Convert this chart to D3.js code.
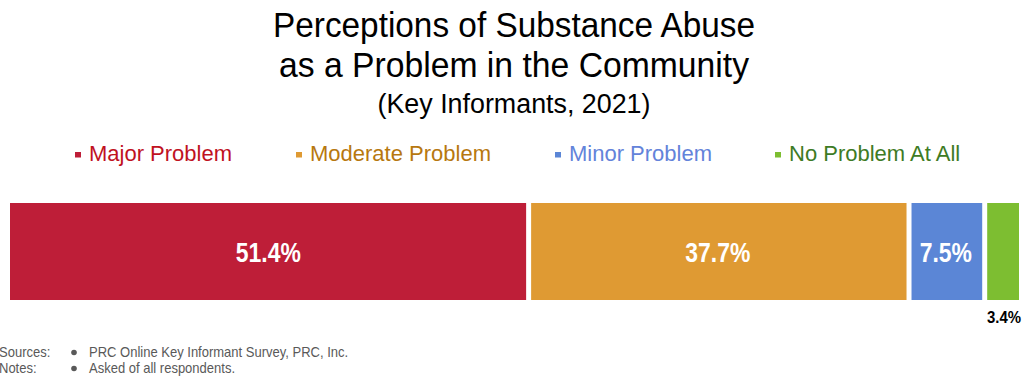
<!DOCTYPE html>
<html><head><meta charset="utf-8">
<script src="https://cdn.jsdelivr.net/npm/d3@7"></script>
<style>body{margin:0;background:#fff}svg{display:block}</style>
</head><body><svg id="c" width="1032" height="382"></svg>
<script>
const categories = ["Major Problem", "Moderate Problem", "Minor Problem", "No Problem At All"];
const values = [51.4, 37.7, 7.5, 3.4];
const labels = ["51.4%", "37.7%", "7.5%", "3.4%"];
const titleLines = ["Perceptions of Substance Abuse", "as a Problem in the Community", "(Key Informants, 2021)"];
const sources = ["PRC Online Key Informant Survey, PRC, Inc."];
const notes = ["Asked of all respondents."];

const barColors = ["#BE1E38", "#DF9A33", "#5B86D6", "#7DBE31"];
const textColors = ["#C0121F", "#B7780F", "#6383DA", "#3E7B25"];
const sans = "'Liberation Sans',Arial,sans-serif";

const svg = d3.select("#c");

// title
const tsz = [35, 35, 27], ty = [37, 77, 113], tlen = [482, 470, 273];
titleLines.forEach((t, i) => svg.append("text").attr("x", 514).attr("y", ty[i])
  .attr("text-anchor", "middle").attr("font-family", sans).attr("font-size", tsz[i])
  .attr("textLength", tlen[i]).attr("lengthAdjust", "spacingAndGlyphs")
  .attr("fill", "#000").text(t));

// legend
const legX = [75, 296, 555, 775];
categories.forEach((c, i) => {
  svg.append("rect").attr("x", legX[i]).attr("y", 152).attr("width", 6).attr("height", 5.5).attr("fill", barColors[i]);
  svg.append("text").attr("x", legX[i] + 14).attr("y", 161).attr("font-family", sans)
    .attr("font-size", 22).attr("fill", textColors[i]).text(c);
});

// bars
const x = d3.scaleLinear().domain([0, 100]).range([10, 1019]);
const y = d3.scaleBand().domain(["all"]).range([203, 300]).padding(0);
let cum = 0;
const segs = values.map((v, i) => { const s = {i, v, x0: cum, x1: cum + v}; cum += v; return s; });
const gap = 2.5;
svg.selectAll("rect.bar").data(segs).join("rect").attr("class", "bar")
  .attr("x", d => x(d.x0) + (d.i > 0 ? gap : 0))
  .attr("width", d => x(d.x1) - x(d.x0) - (d.i > 0 ? gap : 0) - (d.i < segs.length - 1 ? gap : 0))
  .attr("y", y("all")).attr("height", y.bandwidth())
  .attr("fill", d => barColors[d.i]);

svg.selectAll("text.lbl").data(segs).join("text").attr("class", "lbl")
  .attr("transform", d => d.i === 3
    ? `translate(${x(d.x1) - 15},323) scale(0.88,1)`
    : `translate(${(x(d.x0) + x(d.x1)) / 2 - 1},${y("all") + y.bandwidth() / 2 + 10}) scale(0.85,1)`)
  .attr("text-anchor", "middle").attr("font-family", sans).attr("font-weight", "bold")
  .attr("font-size", d => d.i === 3 ? 17 : 27)
  .attr("fill", d => d.i === 3 ? "#000" : "#fff")
  .text(d => labels[d.i]);

// footnotes
const fn = [["Sources:", sources[0], 357], ["Notes:", notes[0], 373]];
fn.forEach(f => {
  svg.append("text").attr("transform", `translate(-1,${f[2]}) scale(0.93,1)`).attr("font-family", sans).attr("font-size", 14).attr("fill", "#595959").text(f[0]);
  svg.append("circle").attr("cx", 74).attr("cy", f[2] - 4.5).attr("r", 2.8).attr("fill", "#595959");
  svg.append("text").attr("transform", `translate(89,${f[2]}) scale(0.93,1)`).attr("font-family", sans).attr("font-size", 14).attr("fill", "#595959").text(f[1]);
});
</script></body></html>
